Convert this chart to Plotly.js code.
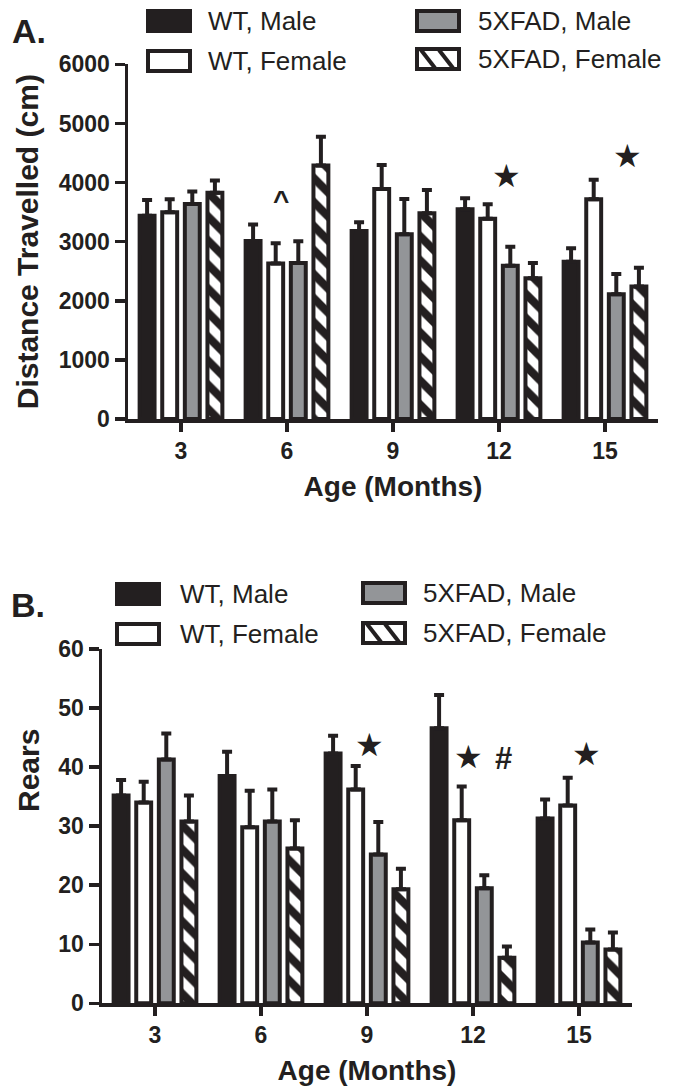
<!DOCTYPE html>
<html>
<head>
<meta charset="utf-8">
<script src="https://cdn.plot.ly/plotly-3.0.1.min.js"></script>
<style>html,body{margin:0;padding:0;background:#fff;}#chart{width:682px;height:1091px;}</style>
</head>
<body>
<div id="chart"></div>
<script>
// ---------- DATA ----------
const ages = ['3', '6', '9', '12', '15'];
const seriesNames = ['WT, Male', 'WT, Female', '5XFAD, Male', '5XFAD, Female'];

// Panel A: Distance travelled (cm)
const distWTMale       = [3440, 3010, 3180, 3550, 2660];
const distWTMaleErr    = [265, 282, 147, 186, 231];
const distWTFemale     = [3500, 2630, 3890, 3390, 3720];
const distWTFemaleErr  = [220, 345, 406, 244, 327];
const dist5xMale       = [3640, 2640, 3125, 2595, 2110];
const dist5xMaleErr    = [208, 367, 598, 321, 343];
const dist5xFemale     = [3830, 4290, 3480, 2380, 2240];
const dist5xFemaleErr  = [204, 485, 395, 260, 321];

// Panel B: Rears
const rearsWTMale       = [35.2, 38.5, 42.3, 46.6, 31.3];
const rearsWTMaleErr    = [2.6, 4.1, 3.0, 5.6, 3.2];
const rearsWTFemale     = [34.0, 29.8, 36.2, 31.0, 33.5];
const rearsWTFemaleErr  = [3.5, 6.2, 4.0, 5.7, 4.7];
const rears5xMale       = [41.3, 30.8, 25.2, 19.5, 10.3];
const rears5xMaleErr    = [4.4, 5.4, 5.5, 2.2, 2.2];
const rears5xFemale     = [30.8, 26.2, 19.3, 7.7, 9.1];
const rears5xFemaleErr  = [4.4, 4.8, 3.5, 1.9, 2.9];

// Significance marks (category index position, value)
const marksAText = ['^', '\u2605', '\u2605'];
const marksAX    = [0.943, 3.075, 4.21];
const marksAY    = [3705, 4112, 4450];
const marksBText = ['\u2605', '\u2605', '#', '\u2605'];
const marksBX    = [2.028, 2.962, 3.29, 4.075];
const marksBY    = [43.7, 41.7, 41.5, 42.2];

// ---------- STYLE ----------
const W = 682, H = 1091;
const INK = '#231f20', GREY = '#939598';
const FONT = 'Liberation Sans, Arial, Helvetica, sans-serif';
const px = x => x / W;
const py = y => 1 - y / H;

const styles = [
  {color: INK},
  {color: '#ffffff'},
  {color: GREY},
  {color: '#ffffff', pattern: {shape: '\\', fgcolor: INK, bgcolor: '#ffffff', fgopacity: 1, size: 17, solidity: 0.48, fillmode: 'overlay'}}
];

function barTrace(i, y, err, xa, ya) {
  const m = Object.assign({line: {color: INK, width: 4}}, styles[i]);
  return {
    type: 'bar', name: seriesNames[i], x: ages, y: y,
    xaxis: xa, yaxis: ya, marker: m, showlegend: false,
    error_y: {type: 'data', symmetric: false, array: err, arrayminus: err.map(() => 0),
              color: INK, thickness: 4, width: 5},
    hoverinfo: 'skip'
  };
}

const data = [
  barTrace(0, distWTMale, distWTMaleErr, 'x', 'y'),
  barTrace(1, distWTFemale, distWTFemaleErr, 'x', 'y'),
  barTrace(2, dist5xMale, dist5xMaleErr, 'x', 'y'),
  barTrace(3, dist5xFemale, dist5xFemaleErr, 'x', 'y'),
  barTrace(0, rearsWTMale, rearsWTMaleErr, 'x2', 'y2'),
  barTrace(1, rearsWTFemale, rearsWTFemaleErr, 'x2', 'y2'),
  barTrace(2, rears5xMale, rears5xMaleErr, 'x2', 'y2'),
  barTrace(3, rears5xFemale, rears5xFemaleErr, 'x2', 'y2')
];

const tickFont = {family: FONT, size: 23, color: INK, weight: 'bold'};
const xTitleFont = {family: FONT, size: 28, color: INK, weight: 'bold'};
const yTitleFont = {family: FONT, size: 30, color: INK, weight: 'bold'};

function xAxis(domain, anchor) {
  return {
    domain: domain, anchor: anchor, type: 'category', range: [-0.5, 4.5],
    showline: true, linecolor: INK, linewidth: 3.5, ticks: 'outside', ticklen: 9,
    tickwidth: 3.5, tickcolor: INK, tickfont: tickFont, showgrid: false, zeroline: false,
    automargin: false, fixedrange: true,
    title: {text: 'Age (Months)', font: xTitleFont, standoff: 14}
  };
}
function yAxis(domain, anchor, range, dtick, title, tf, standoff) {
  return {
    domain: domain, anchor: anchor, range: range, dtick: dtick, tick0: 0,
    showline: true, linecolor: INK, linewidth: 3.5, ticks: 'outside', ticklen: 10,
    tickwidth: 3.5, tickcolor: INK, tickfont: tickFont, showgrid: false, zeroline: false,
    automargin: false, fixedrange: true,
    title: {text: title, font: tf, standoff: standoff}
  };
}

const annotations = [];
function addMarks(texts, xs, ys, xr, yr) {
  texts.forEach((t, i) => annotations.push({
    xref: xr, yref: yr, x: xs[i], y: ys[i], text: t, showarrow: false,
    font: {family: t === '\u2605' ? 'DejaVu Sans, sans-serif' : FONT, size: t === '\u2605' ? 32 : (t === '#' ? 31 : 28), color: INK, weight: 'bold'},
    xanchor: 'center', yanchor: 'middle'
  }));
}
addMarks(marksAText, marksAX, marksAY, 'x', 'y');
addMarks(marksBText, marksBX, marksBY, 'x2', 'y2');

// Panel letters
annotations.push({xref: 'paper', yref: 'paper', x: px(29), y: py(31), text: 'A.', showarrow: false,
  font: {family: FONT, size: 34, color: INK, weight: 'bold'}, xanchor: 'center', yanchor: 'middle'});
annotations.push({xref: 'paper', yref: 'paper', x: px(28), y: py(605), text: 'B.', showarrow: false,
  font: {family: FONT, size: 34, color: INK, weight: 'bold'}, xanchor: 'center', yanchor: 'middle'});
// Panel B y-axis title (placed as in the reference, above the axis centre)
annotations.push({xref: 'paper', yref: 'paper', x: px(28), y: py(771), text: 'Rears', showarrow: false,
  textangle: -90, font: yTitleFont, xanchor: 'center', yanchor: 'middle'});

// Custom legends
const shapes = [];
function legendBlock(items) {
  items.forEach(it => {
    const s = styles[it.i];
    shapes.push({type: 'rect', xref: 'paper', yref: 'paper',
      x0: px(it.bx), x1: px(it.bx + 42), y0: py(it.cy - 10), y1: py(it.cy + 10),
      line: {color: INK, width: 4}, fillcolor: s.color});
    if (s.pattern) {
      [[4, 18], [22, 36]].forEach(([a, b]) => shapes.push({type: 'line', xref: 'paper', yref: 'paper',
        x0: px(it.bx + a), y0: py(it.cy - 9), x1: px(it.bx + b), y1: py(it.cy + 9),
        line: {color: INK, width: 4}}));
    }
    annotations.push({xref: 'paper', yref: 'paper', x: px(it.tx), y: py(it.cy), text: seriesNames[it.i],
      showarrow: false, xanchor: 'left', yanchor: 'middle',
      font: {family: FONT, size: 26, color: INK}});
  });
}
legendBlock([
  {i: 0, bx: 148, cy: 21, tx: 206},
  {i: 1, bx: 148, cy: 61, tx: 206},
  {i: 2, bx: 417, cy: 21, tx: 476},
  {i: 3, bx: 417, cy: 59, tx: 476}
]);
legendBlock([
  {i: 0, bx: 117, cy: 594, tx: 178},
  {i: 1, bx: 117, cy: 634, tx: 178},
  {i: 2, bx: 363, cy: 593, tx: 421},
  {i: 3, bx: 363, cy: 633, tx: 421}
]);

const layout = {
  width: W, height: H, margin: {l: 0, r: 0, t: 0, b: 0},
  paper_bgcolor: '#ffffff', plot_bgcolor: 'rgba(0,0,0,0)',
  barmode: 'group', bargap: 0.147, bargroupgap: 0.34,
  showlegend: false,
  font: {family: FONT, color: INK},
  xaxis: xAxis([px(128), px(658)], 'y'),
  yaxis: yAxis([py(419), py(64.4)], 'x', [0, 6000], 1000, 'Distance Travelled (cm)', yTitleFont, 12),
  xaxis2: xAxis([px(102), px(632)], 'y2'),
  yaxis2: yAxis([py(1003.3), py(649)], 'x2', [0, 60], 10, '', yTitleFont, 22),
  annotations: annotations,
  shapes: shapes
};

Plotly.newPlot('chart', data, layout, {staticPlot: true, displayModeBar: false});
</script>
</body>
</html>
